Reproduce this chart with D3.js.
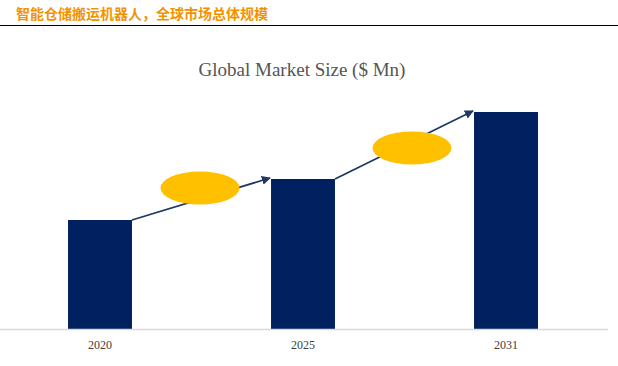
<!DOCTYPE html>
<html><head><meta charset="utf-8">
<script src="https://cdn.jsdelivr.net/npm/d3@7"></script>
<style>
html,body{margin:0;padding:0;background:#fff;}
svg{display:block;}
</style></head>
<body>
<script>
const years = ["2020", "2025", "2031"];
const marketSize = [109, 150, 217];
const pageTitle = "智能仓储搬运机器人，全球市场总体规模";
const chartTitle = "Global Market Size ($ Mn)";

const W = 618, H = 366;
const svg = d3.select("body").append("svg").attr("width", W).attr("height", H);

svg.append("text").attr("x", 16).attr("y", 19)
  .attr("font-family", "'Noto Sans CJK SC', sans-serif").attr("font-weight", "bold")
  .attr("font-size", 14).attr("fill", "#F39200").text(pageTitle);
svg.append("line").attr("x1", 0).attr("x2", W).attr("y1", 25.5).attr("y2", 25.5)
  .attr("stroke", "#000").attr("stroke-width", 1.2);

svg.append("text").attr("x", 302).attr("y", 76).attr("text-anchor", "middle")
  .attr("font-family", "'Liberation Serif', 'Times New Roman', serif")
  .attr("font-size", 19).attr("fill", "#555").text(chartTitle);

const baseY = 329;
const x = d3.scaleBand().domain(years).range([-1, 607]).paddingInner(0.685).paddingOuter(0.34);
const y = d3.scaleLinear().domain([0, 230]).range([baseY, baseY - 230]);

const defs = svg.append("defs");
defs.append("marker").attr("id", "arr").attr("viewBox", "0 0 10 10")
  .attr("refX", 9).attr("refY", 5).attr("markerWidth", 5).attr("markerHeight", 5)
  .attr("orient", "auto").attr("markerUnits", "strokeWidth")
  .append("path").attr("d", "M0,0 L10,5 L0,10 z").attr("fill", "#1F3864");

svg.selectAll("rect.bar").data(years).enter().append("rect").attr("class", "bar")
  .attr("x", d => x(d)).attr("width", x.bandwidth())
  .attr("y", (d, i) => y(marketSize[i])).attr("height", (d, i) => baseY - y(marketSize[i]))
  .attr("fill", "#00205F");

// axis
const axis = svg.append("g").attr("transform", `translate(0,${baseY})`)
  .call(d3.axisBottom(x).tickSize(0).tickPadding(11));
axis.select(".domain").attr("stroke", "#d9d9d9").attr("stroke-width", 1.5)
  .attr("d", `M0,0.5H608`);
axis.selectAll("text").attr("font-family", "'Liberation Serif', 'Times New Roman', serif")
  .attr("font-size", 12).attr("fill", "#404040");

// arrows & ellipses
const ellOff = [[-1, -11], [8, 3]];
for (let i = 0; i < years.length - 1; i++) {
  const x1 = x(years[i]) + x.bandwidth(), y1 = y(marketSize[i]);
  const x2 = x(years[i + 1]) - 1, y2 = y(marketSize[i + 1]) - 1;
  svg.append("line").attr("x1", x1).attr("y1", y1).attr("x2", x2).attr("y2", y2)
    .attr("stroke", "#1F3864").attr("stroke-width", 1.8).attr("marker-end", "url(#arr)");
  svg.append("ellipse").attr("cx", (x1 + x2) / 2 + ellOff[i][0]).attr("cy", (y1 + y2) / 2 + ellOff[i][1])
    .attr("rx", 39.5).attr("ry", 16.5).attr("fill", "#FFC000");
}
</script>
</body></html>
